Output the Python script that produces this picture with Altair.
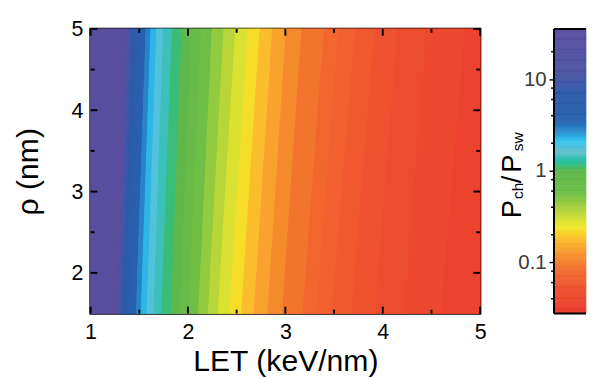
import altair as alt
import numpy as np
import pandas as pd

# log10(Pch/Psw) contour levels and the LET (keV/nm) where each lies,
# read at the top edge (rho = 5 nm) and at the bottom edge (rho = 1.5 nm)
levels = [1.2, 1.1, 1.0, 0.9, 0.8, 0.7, 0.6, 0.5, 0.4, 0.3, 0.2, 0.1, 0.0,
          -0.1, -0.2, -0.3, -0.4, -0.5, -0.6, -0.7, -0.8, -0.9, -1.0,
          -1.1, -1.15, -1.2, -1.25, -1.3, -1.35, -1.4]
let_top = [1.38, 1.39, 1.41, 1.43, 1.46, 1.49, 1.53, 1.57, 1.62, 1.68, 1.75, 1.84, 1.94,
           2.04, 2.14, 2.25, 2.37, 2.49, 2.62, 2.74, 2.87, 3.01, 3.17,
           3.40, 3.55, 3.72, 3.92, 4.15, 4.45, 4.85]
let_bot = [1.28, 1.29, 1.31, 1.33, 1.36, 1.39, 1.43, 1.47, 1.52, 1.58, 1.65, 1.73, 1.83,
           1.92, 2.01, 2.11, 2.21, 2.31, 2.43, 2.55, 2.68, 2.82, 2.97,
           3.18, 3.32, 3.48, 3.68, 3.92, 4.22, 4.60]
rho_edges = [5.0, 1.5]
let_range = [1.0, 5.0]
left_value = 1.55      # saturated (purple) region at low LET
right_value = -1.45    # red region at high LET

x_major = [1, 2, 3, 4, 5]
x_minor = [1.5, 2.5, 3.5, 4.5]
y_major = [2, 3, 4, 5]
y_minor = [2.5, 3.5, 4.5]
cb_major = [0.1, 1, 10]
cb_minor = [0.04, 0.06, 0.08, 0.2, 0.4, 0.6, 0.8, 2, 4, 6, 8, 20]
cb_log_range = [-1.56, 1.55]

cmap_stops = [-1.56, -1.3, -1.1, -0.9, -0.75, -0.62, -0.45, -0.25, 0.0, 0.2,
              0.32, 0.42, 0.55, 0.85, 1.1, 1.55]
cmap_colors = ["#e8392b", "#ee4f2f", "#f2692e", "#f6952f", "#fbbd2d", "#f3e82a",
               "#b8d63a", "#6fbe46", "#5db74b", "#62bfcc", "#35c5ef", "#2b8fd0",
               "#2760b0", "#2b5aa8", "#4d52a2", "#594d9e"]

FONT = "Liberation Sans"
W, H = 401, 293
CBW = 33

# ---- band table (polygons between successive contours)
rows = []
bands_left_top = [let_range[0]] + let_top
bands_right_top = let_top + [let_range[1]]
bands_left_bot = [let_range[0]] + let_bot
bands_right_bot = let_bot + [let_range[1]]
band_vals = [left_value] + [(levels[i] + levels[i + 1]) / 2 for i in range(len(levels) - 1)] + [right_value]
for b, v in enumerate(band_vals):
    rows.append(dict(band=b, rho=rho_edges[0], left=bands_left_top[b], right=bands_right_top[b], v=v))
    rows.append(dict(band=b, rho=rho_edges[1], left=bands_left_bot[b], right=bands_right_bot[b], v=v))
bands_df = pd.DataFrame(rows)

cscale = alt.Scale(domain=cmap_stops, range=cmap_colors, clamp=True)
xscale = alt.Scale(domain=let_range, nice=False, zero=False)
yscale = alt.Scale(domain=[rho_edges[1], rho_edges[0]], nice=False, zero=False)

y_axis = alt.Axis(values=y_major, title="ρ (nm)", ticks=False, tickSize=0, domain=False,
                  grid=False, labelFontSize=22, labelColor="black", labelPadding=8,
                  titleFontSize=31, titleFontWeight="normal", titleColor="black",
                  titlePadding=27, labelFont=FONT, titleFont=FONT)
x_axis = alt.Axis(values=x_major, title="LET (keV/nm)", ticks=False, tickSize=0, domain=False,
                  grid=False, labelFontSize=22, labelColor="black", labelPadding=9,
                  titleFontSize=31, titleFontWeight="normal", titleColor="black",
                  titlePadding=5, labelFont=FONT, titleFont=FONT, labelFlush=False)

bands = alt.Chart(bands_df).mark_area(orient="horizontal", strokeWidth=1).encode(
    y=alt.Y("rho:Q", scale=yscale, axis=y_axis),
    x=alt.X("left:Q", scale=xscale, axis=x_axis),
    x2="right:Q",
    color=alt.Color("v:Q", scale=cscale, legend=None),
    stroke=alt.Stroke("v:Q", scale=cscale, legend=None),
    detail="band:N",
)


def xticks(vals, length, top):
    return alt.Chart(pd.DataFrame({"t": vals})).mark_rule(color="black", strokeWidth=2).encode(
        x=alt.X("t:Q", scale=xscale, axis=x_axis),
        y=alt.value(0 if top else H),
        y2=alt.value(length if top else H - length))


def yticks(vals, length, left):
    return alt.Chart(pd.DataFrame({"t": vals})).mark_rule(color="black", strokeWidth=2).encode(
        y=alt.Y("t:Q", scale=yscale, axis=y_axis),
        x=alt.value(0 if left else W),
        x2=alt.value(length if left else W - length))


main = alt.layer(
    bands,
    xticks(x_major, 7, False), xticks(x_minor, 4, False),
    xticks(x_major, 7, True), xticks(x_minor, 4, True),
    yticks(y_major, 7, True), yticks(y_minor, 4, True),
    yticks(y_major, 7, False), yticks(y_minor, 4, False),
).properties(width=W, height=H, view=alt.ViewBackground(stroke="black", strokeWidth=2.5))

# ---- colour bar
cb_v = np.round(np.arange(cb_log_range[0], cb_log_range[1], 0.01), 2)
cb_df = pd.DataFrame({"v": cb_v, "lo": 10 ** cb_v,
                      "hi": 10 ** np.minimum(cb_v + 0.01, cb_log_range[1])})
cb_yscale = alt.Scale(type="log", domain=[10 ** cb_log_range[0], 10 ** cb_log_range[1]], nice=False)
cb_axis = alt.Axis(values=cb_major, format="~g", title=None, tickSize=5, tickWidth=1.5,
                   tickColor="black", domain=False, grid=False, labelFontSize=21,
                   labelColor="#3a3a3a", labelPadding=3, labelFont=FONT)

cb_rect = alt.Chart(cb_df).mark_rect(strokeWidth=0.6).encode(
    y=alt.Y("lo:Q", scale=cb_yscale, axis=cb_axis),
    y2="hi:Q",
    x=alt.value(0), x2=alt.value(CBW),
    color=alt.Color("v:Q", scale=cscale, legend=None),
    stroke=alt.Stroke("v:Q", scale=cscale, legend=None),
)
cb_minor_ticks = alt.Chart(pd.DataFrame({"m": cb_minor})).mark_rule(color="black", strokeWidth=1.5).encode(
    y=alt.Y("m:Q", scale=cb_yscale, axis=cb_axis), x=alt.value(0), x2=alt.value(-3))

one = alt.Data(values=[{}])
frame_left = alt.Chart(one).mark_rule(color="black", strokeWidth=2).encode(
    x=alt.value(0), y=alt.value(0), y2=alt.value(H))
frame_top = alt.Chart(one).mark_rule(color="black", strokeWidth=2).encode(
    x=alt.value(0), x2=alt.value(CBW), y=alt.value(0))
frame_bot = alt.Chart(one).mark_rule(color="black", strokeWidth=2).encode(
    x=alt.value(0), x2=alt.value(CBW), y=alt.value(H))


def title_part(txt, size, x, y):
    return alt.Chart(one).mark_text(text=txt, fontSize=size, font=FONT, angle=270, align="left",
                                    baseline="alphabetic", color="black").encode(
        x=alt.value(x), y=alt.value(y))


colorbar = alt.layer(
    cb_rect, cb_minor_ticks, frame_left, frame_top, frame_bot,
    title_part("P", 28, -34, 195),
    title_part("ch", 16, -32, 175),
    title_part("/", 28, -34, 159),
    title_part("P", 28, -34, 148),
    title_part("sw", 16, -32, 126),
).properties(width=CBW, height=H, view=alt.ViewBackground(stroke=None))

chart = alt.hconcat(main, colorbar, spacing=76, bounds="flush").properties(
    padding={"left": 4, "top": 3, "right": 0, "bottom": 0}
).configure(font=FONT).configure_view(stroke=None)

chart.save("out.html", embed_options={"renderer": "svg", "actions": False})
